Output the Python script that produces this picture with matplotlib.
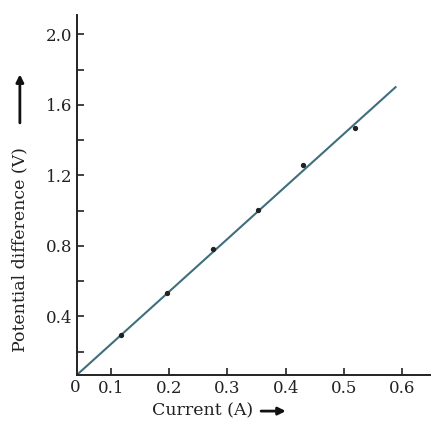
import matplotlib
matplotlib.use('Agg')
import matplotlib.pyplot as plt

# measured readings
current = [0.117, 0.196, 0.275, 0.352, 0.430, 0.519]
voltage = [0.295, 0.53, 0.78, 1.006, 1.256, 1.47]

# straight line drawn through the readings
fit_current = [0.041, 0.589]
fit_voltage = [0.068, 1.70]

x_ticks = [0.1, 0.2, 0.3, 0.4, 0.5, 0.6]
x_labels = ['0.1', '0.2', '0.3', '0.4', '0.5', '0.6']
y_ticks = [0.2, 0.4, 0.6, 0.8, 1.0, 1.2, 1.4, 1.6, 1.8, 2.0]
y_labels = ['', '0.4', '', '0.8', '', '1.2', '', '1.6', '', '2.0']

plt.rcParams['font.family'] = ['DejaVu Serif']

fig = plt.figure(figsize=(4.32, 4.26), dpi=100)
ax = fig.add_axes([0.178, 0.12, 0.817, 0.845])

ax.plot(fit_current, fit_voltage, color='#3f6e7c', lw=1.5)
ax.plot(current, voltage, ls='none', marker='o', ms=2.8, color='#222222')

ax.set_xlim(0.041, 0.648)
ax.set_ylim(0.068, 2.11)
ax.set_xticks(x_ticks)
ax.set_xticklabels(x_labels)
ax.set_yticks(y_ticks)
ax.set_yticklabels(y_labels)
ax.tick_params(direction='in', length=5, width=1.2, labelsize=12, colors='#222222')
ax.tick_params(axis='x', pad=4)
ax.tick_params(axis='y', pad=3)

for s in ['top', 'right']:
    ax.spines[s].set_visible(False)
for s in ['left', 'bottom']:
    ax.spines[s].set_linewidth(1.4)
    ax.spines[s].set_color('#222222')

ax.text(-0.005, -0.036, '0', transform=ax.transAxes, ha='center', va='center',
        fontsize=12, color='#222222')

# axis titles with arrows
fig.text(0.046, 0.413, 'Potential difference (V)', rotation=90, ha='center',
         va='center', fontsize=12.5, color='#222222')
fig.add_artist(matplotlib.patches.FancyArrowPatch(
    (0.046, 0.705), (0.046, 0.832), transform=fig.transFigure,
    arrowstyle='-|>', mutation_scale=11, lw=2.0, color='#111111'))

fig.text(0.47, 0.035, 'Current (A)', ha='center', va='center',
         fontsize=12.5, color='#222222')
fig.add_artist(matplotlib.patches.FancyArrowPatch(
    (0.598, 0.035), (0.668, 0.035), transform=fig.transFigure,
    arrowstyle='-|>', mutation_scale=11, lw=2.0, color='#111111'))

fig.savefig('out.png', dpi=100, facecolor='white')
